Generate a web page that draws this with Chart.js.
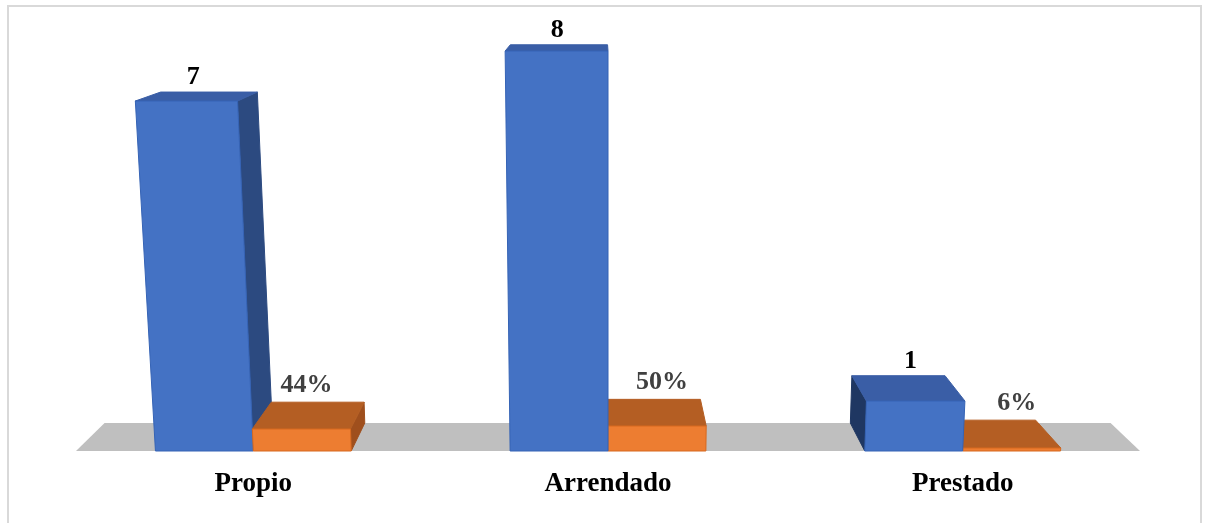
<!DOCTYPE html>
<html>
<head>
<meta charset="utf-8">
<script src="https://cdn.jsdelivr.net/npm/chart.js@4"></script>
<style>
  html, body { margin: 0; padding: 0; background: #fff; }
  #wrap { position: relative; width: 1208px; height: 523px; overflow: hidden; }
  #marco { position: absolute; left: 7px; top: 5px; width: 1195px; height: 540px; border: 2px solid #d9d9d9; box-sizing: border-box; }
  #grafico { position: absolute; left: 0; top: 0; }
</style>
</head>
<body>
<div id="wrap">
  <div id="marco"></div>
  <canvas id="grafico" width="1208" height="523"></canvas>
</div>
<script>
const categorias = ["Propio", "Arrendado", "Prestado"];
const frecuencia = [7, 8, 1];
const porcentaje = [0.44, 0.50, 0.06];

// perspective of the 3D box: vanishing point, depth and a slight lean of the verticals
const FUGA = { x: 600, y: -63 };
const FONDO = 0.0545;
const INCLINA = 1.27e-4;
const INCLINA_X = 608;

const colores = [
  { frente: "#4472C4", arriba: "#3A5EA6", der: "#2C4A80", izq: "#1F3762", borde: "#3563B5" },
  { frente: "#ED7D31", arriba: "#B45E23", der: "#9F4F1D", izq: "#8A4418", borde: "#D7691F" }
];

function proyectar(x, y, z, piso) {
  const lx = x + INCLINA * (x - INCLINA_X) * (piso - y);
  return [lx + z * FONDO * (FUGA.x - lx), y + z * FONDO * (FUGA.y - y)];
}

function cara(ctx, pts, relleno, borde) {
  ctx.beginPath();
  ctx.moveTo(pts[0][0], pts[0][1]);
  for (let i = 1; i < pts.length; i++) ctx.lineTo(pts[i][0], pts[i][1]);
  ctx.closePath();
  ctx.fillStyle = relleno;
  ctx.fill();
  if (borde) {
    ctx.lineWidth = 1;
    ctx.strokeStyle = borde;
    ctx.stroke();
  }
}

const barras3d = {
  id: "barras3d",
  beforeDatasetsDraw(chart) {
    const ctx = chart.ctx;
    const area = chart.chartArea;
    const piso = chart.scales.y.getPixelForValue(0);

    // gray floor
    ctx.save();
    cara(ctx, [
      proyectar(area.left, piso, 0, piso),
      proyectar(area.right, piso, 0, piso),
      proyectar(area.right, piso, 1, piso),
      proyectar(area.left, piso, 1, piso)
    ], "#BFBFBF");

    // collect boxes, farthest from the vanishing point first
    const cajas = [];
    chart.data.datasets.forEach((ds, d) => {
      chart.getDatasetMeta(d).data.forEach((el, i) => {
        cajas.push({ d, i, l: el.x - el.width / 2, r: el.x + el.width / 2, top: el.y, base: el.base, cx: el.x });
      });
    });
    cajas.sort((a, b) => Math.abs(b.cx - FUGA.x) - Math.abs(a.cx - FUGA.x));

    cajas.forEach(c => {
      const col = colores[c.d];
      const p = (x, y, z) => proyectar(x, y, z, piso);
      if (c.r < FUGA.x) {
        cara(ctx, [p(c.r, c.base, 0), p(c.r, c.top, 0), p(c.r, c.top, 1), p(c.r, c.base, 1)], col.der, col.der);
      }
      if (c.l > FUGA.x) {
        cara(ctx, [p(c.l, c.base, 0), p(c.l, c.top, 0), p(c.l, c.top, 1), p(c.l, c.base, 1)], col.izq, col.izq);
      }
      cara(ctx, [p(c.l, c.top, 0), p(c.r, c.top, 0), p(c.r, c.top, 1), p(c.l, c.top, 1)], col.arriba, col.arriba);
      cara(ctx, [p(c.l, c.base, 0), p(c.r, c.base, 0), p(c.r, c.top, 0), p(c.l, c.top, 0)], col.frente, col.borde);
    });

    // value labels above each box
    ctx.textAlign = "center";
    ctx.textBaseline = "alphabetic";
    ctx.font = "bold 26px 'Liberation Serif'";
    cajas.forEach(c => {
      const p = (x, y, z) => proyectar(x, y, z, piso);
      const fc = (p(c.l, c.top, 0)[0] + p(c.r, c.top, 0)[0]) / 2;
      const bc = (p(c.l, c.top, 1)[0] + p(c.r, c.top, 1)[0]) / 2;
      const by = p(c.l, c.top, 1)[1];
      if (c.d === 0) {
        ctx.fillStyle = "#000000";
        ctx.fillText(String(frecuencia[c.i]), fc + 0.3 * (bc - fc), by - 8);
      } else {
        ctx.fillStyle = "#404040";
        ctx.fillText(Math.round(porcentaje[c.i] * 100) + "%", fc + 5, by - 10);
      }
    });

    // category names under the floor
    ctx.fillStyle = "#000000";
    ctx.font = "bold 27px 'Liberation Serif'";
    categorias.forEach((cat, i) => {
      ctx.fillText(cat, chart.scales.x.getPixelForValue(i), piso + 40);
    });
    ctx.restore();
    return false;
  }
};

new Chart(document.getElementById("grafico"), {
  type: "bar",
  data: {
    labels: categorias,
    datasets: [
      { label: "Frecuencia", data: frecuencia, backgroundColor: "#4472C4" },
      { label: "Porcentaje", data: porcentaje, backgroundColor: "#ED7D31" }
    ]
  },
  options: {
    responsive: false,
    animation: false,
    categoryPercentage: 0.552,
    barPercentage: 1,
    layout: { padding: { left: 76, right: 68, top: 1, bottom: 72 } },
    scales: {
      x: { display: false },
      y: { display: false, min: 0, max: 9 }
    },
    plugins: {
      legend: { display: false },
      tooltip: { enabled: false }
    }
  },
  plugins: [barras3d]
});
</script>
</body>
</html>
